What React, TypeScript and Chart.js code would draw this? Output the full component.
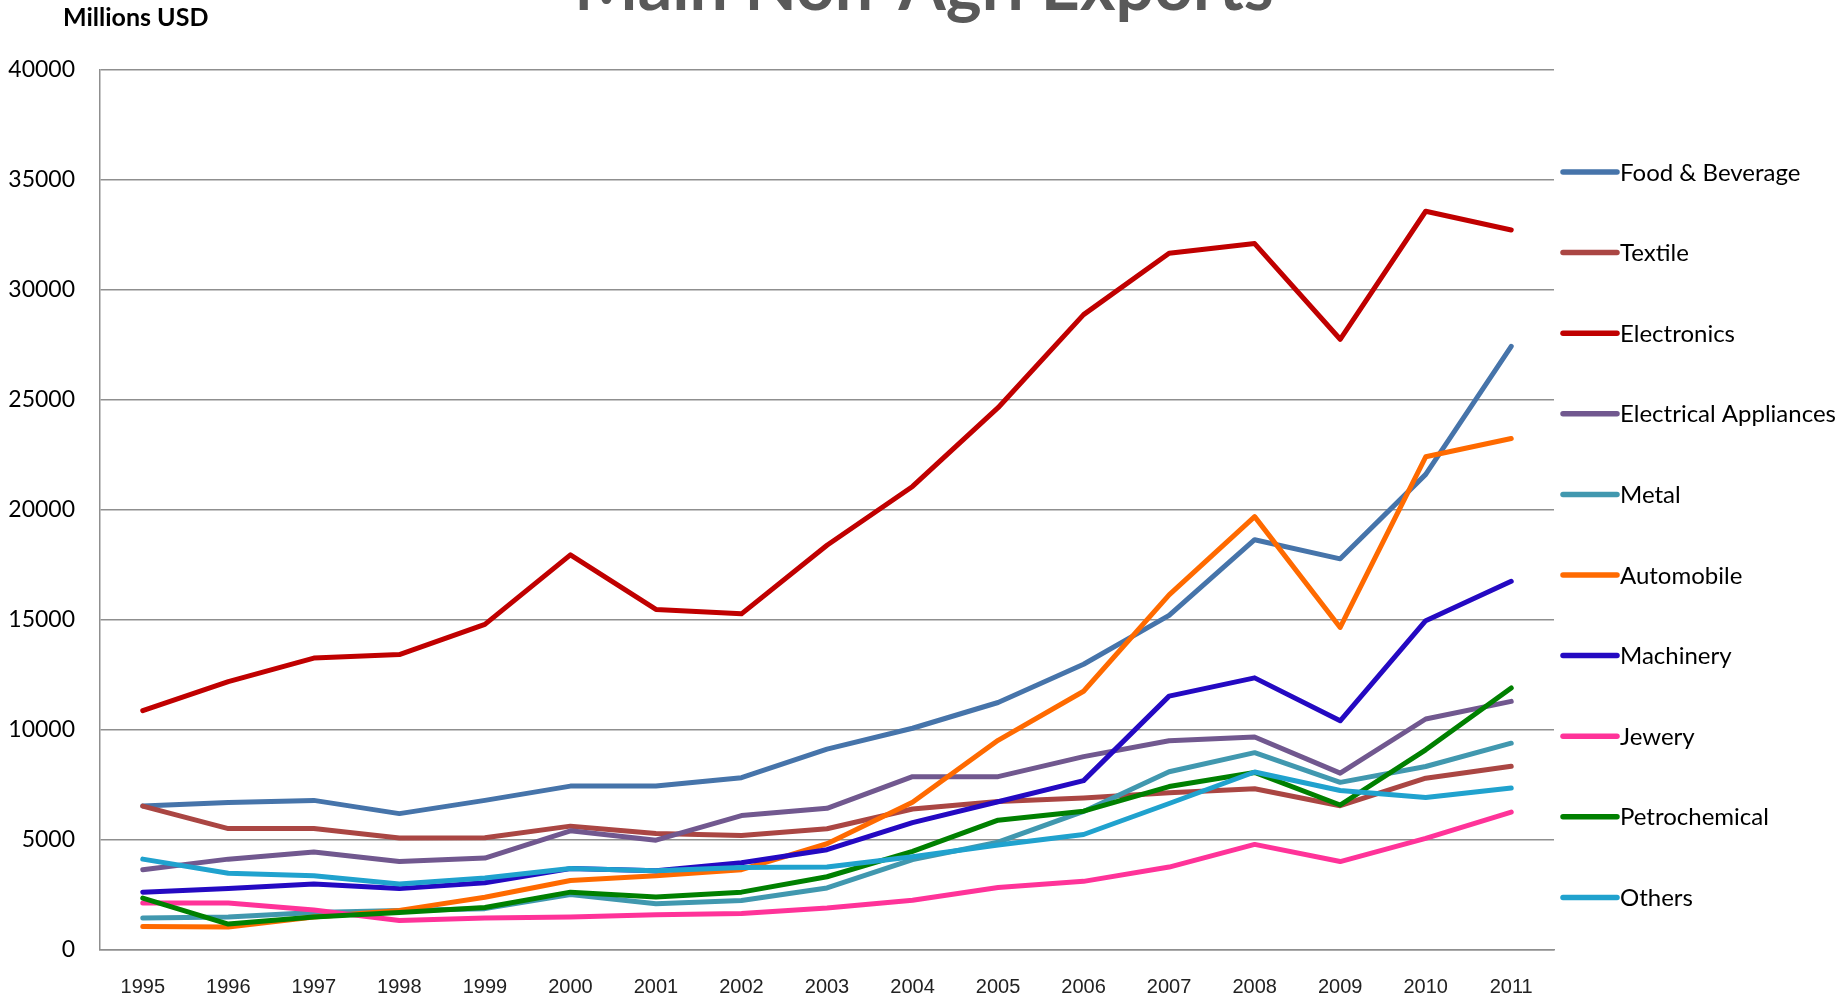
import React, { useEffect, useRef } from "react";
import { Chart, registerables } from "chart.js";

Chart.register(...registerables);

const TITLE = "Main Non-Agri Exports";
const UNIT_LABEL = "Millions USD";

const years = ["1995", "1996", "1997", "1998", "1999", "2000", "2001", "2002", "2003", "2004", "2005", "2006", "2007", "2008", "2009", "2010", "2011"];

const foodBeverage = [6550, 6700, 6800, 6200, 6800, 7450, 7450, 7830, 9130, 10080, 11250, 12990, 15210, 18650, 17780, 21620, 27440];
const textile = [6540, 5520, 5520, 5090, 5100, 5630, 5300, 5200, 5510, 6410, 6750, 6910, 7150, 7330, 6560, 7810, 8350];
const electronics = [10880, 12200, 13270, 13430, 14800, 17960, 15480, 15280, 18400, 21070, 24650, 28880, 31670, 32110, 27760, 33580, 32730];
const electricalAppliances = [3650, 4130, 4450, 4020, 4180, 5420, 4990, 6110, 6440, 7880, 7880, 8790, 9510, 9680, 8040, 10500, 11300];
const metal = [1450, 1500, 1700, 1800, 1880, 2520, 2100, 2250, 2820, 4110, 4900, 6300, 8100, 8970, 7620, 8340, 9400];
const automobile = [1070, 1050, 1500, 1800, 2400, 3160, 3380, 3650, 4830, 6720, 9530, 11760, 16140, 19700, 14660, 22420, 23250];
const machinery = [2630, 2790, 3000, 2790, 3060, 3700, 3600, 3970, 4560, 5790, 6740, 7700, 11540, 12370, 10420, 14970, 16760];
const jewery = [2140, 2140, 1820, 1340, 1450, 1500, 1600, 1660, 1910, 2260, 2840, 3120, 3770, 4800, 4020, 5070, 6270];
const petrochemical = [2360, 1180, 1500, 1700, 1930, 2630, 2410, 2630, 3330, 4480, 5900, 6310, 7430, 8070, 6590, 9100, 11910];
const others = [4130, 3490, 3380, 3000, 3270, 3700, 3600, 3750, 3770, 4240, 4770, 5250, 6660, 8090, 7250, 6930, 7360];

const seriesNames = ["Food & Beverage", "Textile", "Electronics", "Electrical Appliances", "Metal", "Automobile", "Machinery", "Jewery", "Petrochemical", "Others"];
const seriesValues = [foodBeverage, textile, electronics, electricalAppliances, metal, automobile, machinery, jewery, petrochemical, others];
const seriesColors = ["#4674AA", "#AA4643", "#C00000", "#71588F", "#4198AF", "#FF6A00", "#2409C2", "#FF3399", "#008000", "#20A2CE"];

const overlayPlugin = {
  id: "overlay",
  afterDraw(chart: any) {
    const ctx = chart.ctx as CanvasRenderingContext2D;
    ctx.save();
    ctx.textBaseline = "alphabetic";
    // Title (partly cut off at the top, as in the reference)
    ctx.font = "bold 68px Lato";
    ctx.fillStyle = "#595959";
    ctx.textAlign = "center";
    ctx.fillText(TITLE, chart.width / 2, 10);
    // Unit label
    ctx.font = "bold 25px Lato";
    ctx.fillStyle = "#000000";
    ctx.textAlign = "left";
    ctx.fillText(UNIT_LABEL, 63, 26);
    // Legend
    const x0 = chart.chartArea.right + 9;
    const fontSize = 24;
    chart.data.datasets.forEach((ds: any, i: number) => {
      const y = 172 + i * 80.6;
      ctx.strokeStyle = ds.borderColor;
      ctx.lineWidth = 5.5;
      ctx.lineCap = "round";
      ctx.beginPath();
      ctx.moveTo(x0, y);
      ctx.lineTo(x0 + 54, y);
      ctx.stroke();
      ctx.font = `${fontSize}px Lato`;
      ctx.fillStyle = "#000000";
      ctx.fillText(ds.label, x0 + 57, y + fontSize * 0.717 / 2);
    });
    ctx.restore();
  },
};

export default function App() {
  const canvasRef = useRef<HTMLCanvasElement | null>(null);

  useEffect(() => {
    if (!canvasRef.current) return;
    const chart = new Chart(canvasRef.current, {
      type: "line",
      data: {
        labels: years,
        datasets: seriesNames.map((name, i) => ({
          label: name,
          data: seriesValues[i],
          borderColor: seriesColors[i],
          backgroundColor: seriesColors[i],
          borderWidth: 5,
          pointRadius: 0,
          pointHoverRadius: 0,
          tension: 0,
          fill: false,
          borderJoinStyle: "round" as const,
          borderCapStyle: "round" as const,
          order: seriesNames.length - 1 - i,
        })),
      },
      options: {
        animation: false,
        responsive: false,
        devicePixelRatio: 1,
        layout: { padding: { left: 0, top: 70, right: 294, bottom: 0 } },
        plugins: {
          legend: { display: false },
          title: { display: false },
          tooltip: { enabled: false },
        },
        scales: {
          x: {
            type: "category",
            offset: true,
            grid: { display: false, drawTicks: false },
            border: { display: true, color: "#8f8f8f", width: 1.5 },
            ticks: {
              font: { family: "'Liberation Sans Narrow', 'Liberation Sans', sans-serif", size: 20 },
              color: "#222222",
              padding: 25,
              maxRotation: 0,
              autoSkip: false,
            },
            afterFit: (s: any) => {
              s.height = 46;
            },
          },
          y: {
            min: 0,
            max: 40000,
            ticks: {
              stepSize: 5000,
              font: { family: "Lato", size: 23 },
              color: "#000000",
              padding: 25,
              callback: (v: any) => String(v),
            },
            grid: { color: "#8f8f8f", lineWidth: 1.5, drawTicks: false },
            border: { display: true, color: "#8f8f8f", width: 1.5 },
            afterFit: (s: any) => {
              s.width = 100;
            },
          },
        },
      },
      plugins: [overlayPlugin],
    });
    return () => chart.destroy();
  }, []);

  return (
    <div style={{ position: "fixed", left: 0, top: 0, width: 1848, height: 996, background: "#ffffff" }}>
      <canvas ref={canvasRef} width={1848} height={996} style={{ display: "block" }} />
    </div>
  );
}
